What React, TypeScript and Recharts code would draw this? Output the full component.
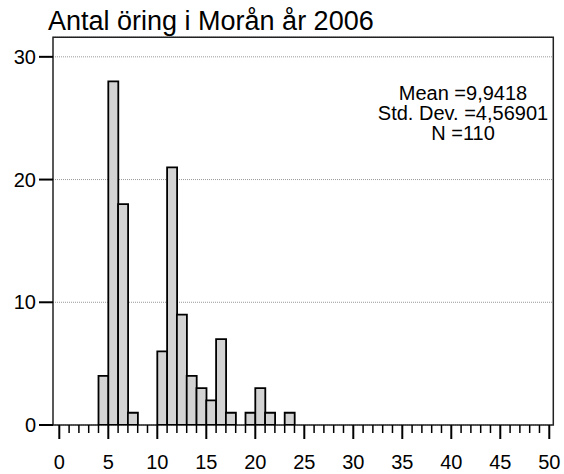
import { BarChart, Bar, XAxis, YAxis, CartesianGrid, ReferenceArea } from 'recharts';

// histogram bins: lower edge of each 1-unit bin and its count
const binStarts = [4, 5, 6, 7, 8, 9, 10, 11, 12, 13, 14, 15, 16, 17, 18, 19, 20, 21, 22, 23];
const counts = [4, 28, 18, 1, 0, 0, 6, 21, 9, 4, 3, 2, 7, 1, 0, 1, 3, 1, 0, 1];
const xTicks = Array.from({ length: 51 }, (_, i) => i);
const yTicks = [0, 10, 20, 30];
const statLines = ['Mean =9,9418', 'Std. Dev. =4,56901', 'N =110'];
const title = 'Antal öring i Morån år 2006';

const X_DOMAIN: [number, number] = [-0.643, 50.41];
const Y_DOMAIN: [number, number] = [0, 31.6];

const data = binStarts.map((b, i) => ({ x: b + 0.5, count: counts[i] }));

const FONT = '"Liberation Sans", Arial, sans-serif';

function XTick(props: any) {
    const { x, y, payload } = props;
    const major = payload.value % 5 === 0;
    return (
        <g>
            <line x1={x} x2={x} y1={y} y2={y + (major ? 14 : 8)} stroke='#000' strokeWidth={major ? 2 : 1.5} />
            {major && (
                <text x={x} y={y + 44} textAnchor='middle' fontSize={20} fontFamily={FONT} fill='#000'>
                    {payload.value}
                </text>
            )}
        </g>
    );
}

export default function App() {
    return (
        <div style={{ position: 'absolute', left: 0, top: 0, width: 564, height: 474, background: '#fff' }}>
            <BarChart
                width={564}
                height={474}
                data={data}
                margin={{ top: 37.2, right: 10.7, bottom: 0, left: 0 }}
                barCategoryGap={0}
                barGap={0}
            >
                <CartesianGrid vertical={false} stroke='#999' strokeDasharray='1 1' />
                <XAxis
                    dataKey='x'
                    type='number'
                    domain={X_DOMAIN}
                    allowDataOverflow
                    ticks={xTicks}
                    interval={0}
                    height={49}
                    tickLine={false}
                    tickSize={0}
                    tickMargin={0}
                    axisLine={false}
                    tick={<XTick />}
                />
                <YAxis
                    domain={Y_DOMAIN}
                    allowDataOverflow
                    ticks={yTicks}
                    width={53}
                    tickSize={14}
                    tickMargin={3}
                    axisLine={false}
                    tickLine={{ stroke: '#000', strokeWidth: 2 }}
                    tick={{ fill: '#000', fontSize: 20, fontFamily: FONT }}
                />
                <Bar dataKey='count' fill='#d3d3d3' stroke='#000' strokeWidth={1.8} isAnimationActive={false} />
                <ReferenceArea
                    x1={X_DOMAIN[0]}
                    x2={X_DOMAIN[1]}
                    y1={Y_DOMAIN[0]}
                    y2={Y_DOMAIN[1]}
                    fill='none'
                    stroke='#222'
                    strokeWidth={1.5}
                    fillOpacity={0}
                />
                <text x={48} y={30} fontSize={27} fontFamily={FONT} fill='#000'>
                    {title}
                </text>
                {statLines.map((s, i) => (
                    <text key={s} x={463} y={100 + i * 20} textAnchor='middle' fontSize={20} fontFamily={FONT} fill='#000'>
                        {s}
                    </text>
                ))}
            </BarChart>
        </div>
    );
}
